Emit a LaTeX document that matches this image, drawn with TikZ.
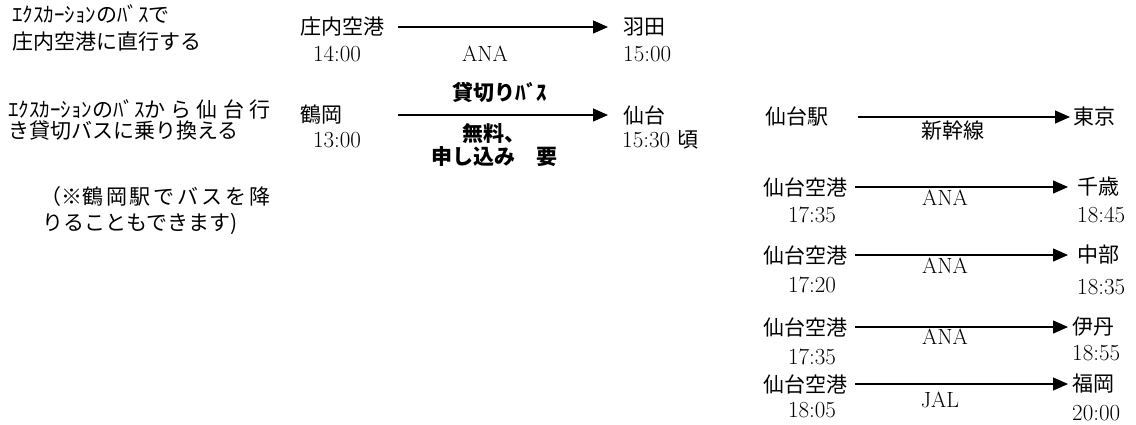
\documentclass[tikz,border=0pt]{standalone}
\usepackage{fontspec}
\newfontfamily\jp{Noto Sans CJK JP}
\usetikzlibrary{arrows.meta}
\begin{document}
\begin{tikzpicture}[x=1pt,y=-1pt,
  txt/.style={inner sep=0pt, font=\jp\fontsize{21}{25}\selectfont},
  num/.style={inner sep=0pt, font=\fontsize{23}{27}\selectfont},
  lbl/.style={inner sep=0pt, font=\fontsize{22}{26}\selectfont},
  gth/.style={inner sep=0pt, font=\jp\bfseries\fontsize{21}{23}\selectfont, align=center},
  arr/.style={line width=1.2pt, -{Triangle[length=15pt,width=13pt]}}]
\useasboundingbox (0,0) rectangle (1136,424);

% left notes
\node[txt,anchor=west] (t1) at (12,14) {ｴｸｽｶｰｼｮﾝのﾊﾞｽで};
\node[txt,anchor=west] (t2) at (12,42) {庄内空港に直行する};
\node[txt,anchor=west] (t3) at (8,109) {\makebox[262pt][s]{ｴｸｽｶｰｼｮﾝのﾊﾞｽか\hfil ら\hfil 仙\hfil 台\hfil 行}};
\node[txt,anchor=west] (t4) at (8,131) {き貸切バスに乗り換える};
\node[txt,anchor=west] (t5) at (40,197) {\makebox[230pt][s]{（※鶴\hfil 岡\hfil 駅\hfil で\hfil バ\hfil ス\hfil を\hfil 降}};
\node[txt,anchor=west] (t6) at (42,224) {りることもできます)};

% row 1
\node[txt,anchor=west] (shonai) at (300,27) {庄内空港};
\node[num] (d1) at (337,54) {14:00};
\node[txt,anchor=west] (haneda) at (623,27) {羽田};
\node[num,anchor=west] (a1) at (623,54) {15:00};
\node[lbl] (ana0) at (485,54) {ANA};
\draw[arr, shorten <=14pt, shorten >=15pt] (shonai) -- (haneda);

% row 2
\node[txt,anchor=west] (tsuruoka) at (300,115) {鶴岡};
\node[num] (d2) at (337,140) {13:00};
\node[txt,anchor=west] (sendai) at (623,115) {仙台};
\node[num,anchor=west] (a2) at (622,140) {15:30 {\jp\fontsize{21}{25}\selectfont 頃}};
\node[gth] (kashi) at (500,92) {貸切りﾊﾞｽ};
\node[gth] (muryo) at (494,145) {無料、\\申し込み　要};
\draw[arr, shorten <=56pt, shorten >=15pt] (tsuruoka) -- (sendai);

% shinkansen
\node[txt,anchor=west] (sst) at (765,117) {仙台駅};
\node[txt,anchor=west] (tokyo) at (1073,117) {東京};
\node[txt] (shinkansen) at (953,131) {新幹線};
\draw[arr, shorten <=30pt, shorten >=3pt] (sst) -- (tokyo);

% flight 1
\node[txt,anchor=west] (sa1) at (763,187) {仙台空港};
\node[txt,anchor=west] (chitose) at (1077,187) {千歳};
\node[num] (d3) at (812,215) {17:35};
\node[num,anchor=west] (a3) at (1077,215) {18:45};
\node[lbl] (ana1) at (945,198) {ANA};
\draw[arr, shorten <=8pt, shorten >=9pt] (sa1) -- (chitose);

% flight 2
\node[txt,anchor=west] (sa2) at (763,255) {仙台空港};
\node[txt,anchor=west] (chubu) at (1077,255) {中部};
\node[num] (d4) at (812,285) {17:20};
\node[num,anchor=west] (a4) at (1077,287) {18:35};
\node[lbl] (ana2) at (945,266) {ANA};
\draw[arr, shorten <=8pt, shorten >=9pt] (sa2) -- (chubu);

% flight 3
\node[txt,anchor=west] (sa3) at (763,327) {仙台空港};
\node[txt,anchor=west] (itami) at (1072,327) {伊丹};
\node[num] (d5) at (812,357) {17:35};
\node[num,anchor=west] (a5) at (1072,353) {18:55};
\node[lbl] (ana3) at (945,337) {ANA};
\draw[arr, shorten <=8pt, shorten >=4pt] (sa3) -- (itami);

% flight 4
\node[txt,anchor=west] (sa4) at (763,384) {仙台空港};
\node[txt,anchor=west] (fukuoka) at (1072,384) {福岡};
\node[num] (d6) at (812,410) {18:05};
\node[num,anchor=west] (a6) at (1072,413) {20:00};
\node[lbl] (jal) at (940,400) {JAL};
\draw[arr, shorten <=8pt, shorten >=4pt] (sa4) -- (fukuoka);
\end{tikzpicture}
\end{document}
